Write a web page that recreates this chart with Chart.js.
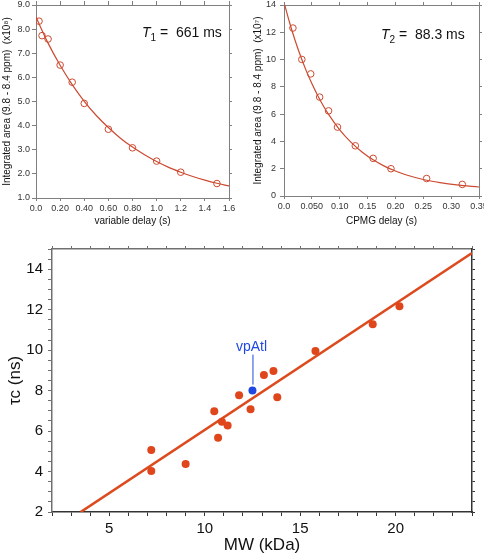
<!DOCTYPE html>
<html>
<head>
<meta charset="utf-8">
<title>T1, T2 and correlation time</title>
<script src="https://cdn.jsdelivr.net/npm/chart.js@4.4.1/dist/chart.umd.min.js"></script>
<style>
  html, body { margin: 0; padding: 0; background: #fff; }
  #wrap { position: relative; width: 484px; height: 558px; overflow: hidden; }
  canvas { position: absolute; }
</style>
</head>
<body>
<div id="wrap">
  <canvas id="t1Chart" width="242" height="232" style="left:0;top:0"></canvas>
  <canvas id="t2Chart" width="242" height="232" style="left:242px;top:0"></canvas>
  <canvas id="tcChart" width="484" height="326" style="left:0;top:232px"></canvas>
</div>
<script>
// T1 (variable delay) data, area in units of 1e8
const t1Delay = [0.025, 0.05, 0.1, 0.2, 0.3, 0.4, 0.6, 0.8, 1.0, 1.2, 1.5];
const t1Area = [8.33, 7.73, 7.59, 6.51, 5.80, 4.92, 3.85, 3.08, 2.53, 2.07, 1.60];
// fitted curve
const t1FitDelay = [0, 0.1, 0.2, 0.3, 0.4, 0.5, 0.6, 0.7, 0.8, 0.9, 1.0, 1.1, 1.2, 1.3, 1.4, 1.5, 1.6];
const t1FitArea = [8.50, 7.42, 6.50, 5.70, 5.01, 4.42, 3.92, 3.48, 3.11, 2.79, 2.51, 2.27, 2.07, 1.89, 1.74, 1.61, 1.50];
const t1XTicks = [0, 0.2, 0.4, 0.6, 0.8, 1.0, 1.2, 1.4, 1.6];
const t1XTickLabels = ['0.0', '0.20', '0.40', '0.60', '0.80', '1.0', '1.2', '1.4', '1.6'];
const t1YTicks = [1, 2, 3, 4, 5, 6, 7, 8, 9];
const t1YTickLabels = ['1.0', '2.0', '3.0', '4.0', '5.0', '6.0', '7.0', '8.0', '9.0'];

// T2 (CPMG delay) data, area in units of 1e7
const t2Delay = [0.016, 0.032, 0.048, 0.064, 0.080, 0.096, 0.128, 0.160, 0.192, 0.256, 0.320];
const t2Area = [12.31, 10.01, 8.95, 7.25, 6.24, 5.05, 3.68, 2.76, 2.00, 1.28, 0.85];
const t2FitDelay = [0, 0.01, 0.02, 0.03, 0.04, 0.05, 0.06, 0.07, 0.08, 0.10, 0.12, 0.14, 0.16, 0.18, 0.20, 0.22, 0.25, 0.28, 0.31, 0.35];
const t2FitArea = [14.2, 12.72, 11.40, 10.22, 9.17, 8.24, 7.40, 6.65, 5.98, 4.85, 3.95, 3.23, 2.65, 2.19, 1.83, 1.54, 1.21, 0.98, 0.81, 0.66];
const t2XTicks = [0, 0.05, 0.1, 0.15, 0.2, 0.25, 0.3, 0.35];
const t2XTickLabels = ['0.0', '0.050', '0.10', '0.15', '0.20', '0.25', '0.30', '0.35'];
const t2YTicks = [0, 2, 4, 6, 8, 10, 12, 14];
const t2YTickLabels = ['0', '2', '4', '6', '8', '10', '12', '14'];

// correlation time vs molecular weight
const mwKDa = [7.2, 7.2, 9.0, 10.5, 10.7, 10.9, 11.2, 11.8, 12.4, 13.1, 13.6, 13.8, 15.8, 18.8, 20.2];
const tauNs = [5.06, 4.03, 4.37, 6.98, 5.67, 6.46, 6.27, 7.77, 7.08, 8.77, 8.97, 7.67, 9.96, 11.28, 12.17];
const vpAtlMW = [12.5];
const vpAtlTau = [8.0];
const fitMW = [3.5, 24];
const fitTau = [2.0, 14.8];
const tcXTicks = [2, 3, 4, 5, 6, 7, 8, 9, 10, 11, 12, 13, 14, 15, 16, 17, 18, 19, 20, 21, 22, 23, 24];
const tcXLabelValues = [5, 10, 15, 20];
const tcXTickLabels = ['5', '10', '15', '20'];
const tcYTicks = [2, 2.5, 3, 3.5, 4, 4.5, 5, 5.5, 6, 6.5, 7, 7.5, 8, 8.5, 9, 9.5, 10, 10.5, 11, 11.5, 12, 12.5, 13, 13.5, 14, 14.5, 15];
const tcYLabelValues = [2, 4, 6, 8, 10, 12, 14];
const tcYTickLabels = ['2', '4', '6', '8', '10', '12', '14'];

const FONT = "'Liberation Sans', Arial, Helvetica, sans-serif";
const fitRed = '#cc4a30';
const dotRed = '#e0461c';
const lineRed = '#dc4a1e';
const blue = '#1f48e0';

const zip = (xs, ys) => xs.map((x, i) => ({ x, y: ys[i] }));

// fix a scale's box size so the plot areas line up with the reference
function fixSize(size) {
  return s => {
    if (s.isHorizontal()) s.height = size; else s.width = size;
    s.paddingTop = 0; s.paddingBottom = 0; s.paddingLeft = 0; s.paddingRight = 0;
  };
}

// frame side with tick marks but no labels
function frameAxis(position, min, max, ticks, size, tickLength, color, width) {
  return {
    type: 'linear', position, min, max,
    afterBuildTicks: s => { s.ticks = ticks.map(v => ({ value: v })); },
    ticks: { display: false, autoSkip: false },
    grid: { drawOnChartArea: false, drawTicks: true, tickLength, color, lineWidth: 1 },
    border: { display: true, color, width },
    afterFit: fixSize(size)
  };
}

function labelAxis(position, min, max, ticks, labelFor, size, o) {
  return {
    type: 'linear', position, min, max,
    afterBuildTicks: s => { s.ticks = ticks.map(v => ({ value: v })); },
    ticks: {
      autoSkip: false, maxRotation: 0, padding: o.pad,
      color: o.tickColor, font: { family: FONT, size: o.tickSize },
      callback: labelFor
    },
    grid: { drawOnChartArea: false, drawTicks: true, tickLength: o.tickLength, color: o.color, lineWidth: 1 },
    border: { display: true, color: o.color, width: o.width },
    title: {
      display: true, text: o.title, color: '#111',
      font: { family: FONT, size: o.titleSize }, padding: o.titlePad
    },
    afterFit: fixSize(size)
  };
}

// italic T with subscript, then " =  value"
function relaxLabel(id, sub, value, dx, baseline) {
  return {
    id,
    afterDraw(chart) {
      const ctx = chart.ctx;
      const x = chart.chartArea.left + dx;
      const y = chart.chartArea.top + baseline;
      ctx.save();
      ctx.fillStyle = '#111';
      ctx.textBaseline = 'alphabetic';
      ctx.font = 'italic 14px ' + FONT;
      ctx.fillText('T', x, y);
      let w = ctx.measureText('T').width;
      ctx.font = '10px ' + FONT;
      ctx.fillText(sub, x + w, y + 4);
      w += ctx.measureText(sub).width;
      ctx.font = '14px ' + FONT;
      ctx.fillText(' =  ' + value, x + w, y);
      ctx.restore();
    }
  };
}

const smallAxis = { pad: 2, tickColor: '#333', tickSize: 9, tickLength: 3, color: '#808080', width: 1, titleSize: 10 };

new Chart(document.getElementById('t1Chart'), {
  type: 'scatter',
  data: {
    datasets: [
      { data: zip(t1Delay, t1Area), pointStyle: 'circle', pointRadius: 3.3, pointBorderWidth: 1,
        borderColor: fitRed, backgroundColor: 'rgba(0,0,0,0)', showLine: false },
      { data: zip(t1FitDelay, t1FitArea), showLine: true, pointRadius: 0, borderColor: fitRed,
        borderWidth: 1.2, tension: 0.4, cubicInterpolationMode: 'monotone' }
    ]
  },
  options: {
    responsive: false, animation: false,
    layout: { padding: 0 },
    plugins: { legend: { display: false }, tooltip: { enabled: false } },
    scales: {
      x: labelAxis('bottom', 0, 1.6, t1XTicks, (v, i) => t1XTickLabels[i], 34,
        Object.assign({}, smallAxis, { title: 'variable delay (s)', titlePad: { top: 0, bottom: 5 } })),
      y: labelAxis('left', 1, 9, t1YTicks, (v, i) => t1YTickLabels[i], 36,
        Object.assign({}, smallAxis, { tickLength: 4, title: 'Integrated area (9.8 - 8.4 ppm)  (x10\u2078)', titlePad: { top: 1.5, bottom: 0 } })),
      x2: frameAxis('top', 0, 1.6, t1XTicks, 5, 4, '#808080', 1),
      y2: frameAxis('right', 1, 9, t1YTicks, 13, 3, '#808080', 1)
    }
  },
  plugins: [relaxLabel('t1Label', '1', '661 ms', 106, 32)]
});

new Chart(document.getElementById('t2Chart'), {
  type: 'scatter',
  data: {
    datasets: [
      { data: zip(t2Delay, t2Area), pointStyle: 'circle', pointRadius: 3.3, pointBorderWidth: 1,
        borderColor: fitRed, backgroundColor: 'rgba(0,0,0,0)', showLine: false },
      { data: zip(t2FitDelay, t2FitArea), showLine: true, pointRadius: 0, borderColor: fitRed,
        borderWidth: 1.2, tension: 0.4, cubicInterpolationMode: 'monotone' }
    ]
  },
  options: {
    responsive: false, animation: false,
    layout: { padding: 0 },
    plugins: { legend: { display: false }, tooltip: { enabled: false } },
    scales: {
      x: labelAxis('bottom', 0, 0.35, t2XTicks, (v, i) => t2XTickLabels[i], 36,
        Object.assign({}, smallAxis, { title: 'CPMG delay (s)', titlePad: { top: 0, bottom: 5 } })),
      y: labelAxis('left', 0, 14, t2YTicks, (v, i) => t2YTickLabels[i], 42,
        Object.assign({}, smallAxis, { tickLength: 4, pad: 4, title: 'Integrated area (9.8 - 8.4 ppm)  (x10\u2077)', titlePad: { top: 10.5, bottom: 0 } })),
      x2: frameAxis('top', 0, 0.35, t2XTicks, 3, 3, '#808080', 1),
      y2: frameAxis('right', 0, 14, t2YTicks, 5, 3, '#808080', 1)
    }
  },
  plugins: [relaxLabel('t2Label', '2', '88.3 ms', 97, 34)]
});

// leader line and label for the vpAtl point
const vpAtlLabel = {
  id: 'vpAtlLabel',
  afterDatasetsDraw(chart) {
    const px = chart.scales.x.getPixelForValue(vpAtlMW[0]);
    const py = chart.scales.y.getPixelForValue(vpAtlTau[0]);
    const ctx = chart.ctx;
    ctx.save();
    ctx.strokeStyle = blue;
    ctx.lineWidth = 1;
    ctx.beginPath();
    ctx.moveTo(px + 0.5, py - 6);
    ctx.lineTo(px + 0.5, py - 36);
    ctx.stroke();
    ctx.fillStyle = blue;
    ctx.font = '14px ' + FONT;
    ctx.textAlign = 'center';
    ctx.textBaseline = 'alphabetic';
    ctx.fillText('vpAtl', px - 1, py - 40);
    ctx.restore();
  }
};

new Chart(document.getElementById('tcChart'), {
  type: 'scatter',
  data: {
    datasets: [
      { data: zip(vpAtlMW, vpAtlTau), pointRadius: 4, pointBorderWidth: 0,
        backgroundColor: blue, borderColor: blue },
      { data: zip(mwKDa, tauNs), pointRadius: 4, pointBorderWidth: 0,
        backgroundColor: dotRed, borderColor: dotRed },
      { data: zip(fitMW, fitTau), showLine: true, pointRadius: 0, borderColor: lineRed, borderWidth: 2.6 }
    ]
  },
  options: {
    responsive: false, animation: false,
    layout: { padding: 0 },
    plugins: { legend: { display: false }, tooltip: { enabled: false } },
    scales: {
      x: labelAxis('bottom', 2, 24, tcXTicks,
        v => { const i = tcXLabelValues.indexOf(v); return i < 0 ? '' : tcXTickLabels[i]; }, 46,
        { pad: 4, tickColor: '#111', tickSize: 15, tickLength: 4, color: '#333', width: 1.5,
          title: 'MW (kDa)', titleSize: 17, titlePad: { top: 0, bottom: 2 } }),
      y: labelAxis('left', 2, 15, tcYTicks,
        v => { const i = tcYLabelValues.indexOf(v); return i < 0 ? '' : tcYTickLabels[i]; }, 52,
        { pad: 5, tickColor: '#111', tickSize: 15, tickLength: 4, color: '#707070', width: 1.5,
          title: '\u03c4c (ns)', titleSize: 17, titlePad: { top: 5, bottom: 0 } }),
      x2: frameAxis('top', 2, 24, tcXTicks, 17, 3, '#707070', 1.5),
      y2: frameAxis('right', 2, 15, tcYTicks, 12, 3, '#333', 1.5)
    }
  },
  plugins: [vpAtlLabel]
});
</script>
</body>
</html>
